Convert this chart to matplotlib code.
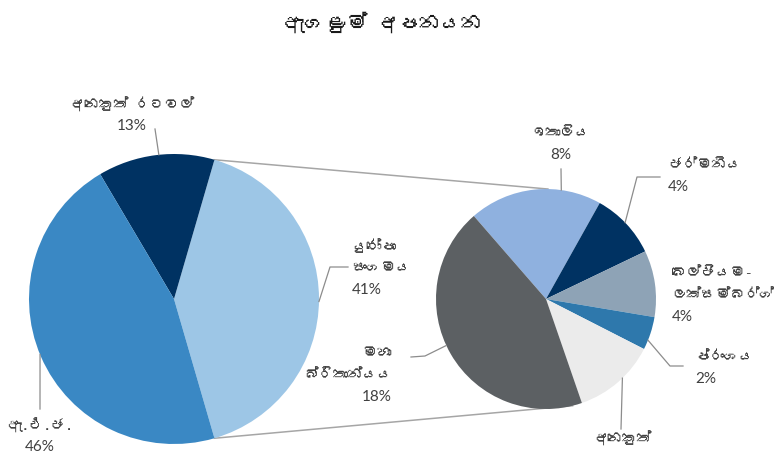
import numpy as np
import matplotlib
matplotlib.use("Agg")
import matplotlib.pyplot as plt
from matplotlib import font_manager
from matplotlib.ft2font import FT2Font

# ---------------- data ----------------
title = "ඇගළුම් අපනයන"
main_labels = ["යුරෝපා\nසංගමය", "අනෙකුත් රටවල්", "ඇ.එ.ජ."]
main_values = [41, 13, 46]
eu_labels = ["ඉතාලිය", "ජර්මනිය", "බෙල්ජියම-\nලක්සම්බර්ග්", "ප්රංශය", "අනෙකුත්", "මහා\nබ්රිතාන්යය"]
eu_values = [8, 4, 4, 2, 5, 18]

main_colors = ["#9DC6E6", "#003262", "#3A88C4"]
eu_colors = ["#8FB1DF", "#003262", "#8EA3B6", "#2E78AC", "#EBEBEB", "#5C6063"]

# ---------------- font with Sinhala coverage ----------------
def find_sinhala_font():
    seen = set()
    for f in font_manager.fontManager.ttflist:
        if f.fname in seen:
            continue
        seen.add(f.fname)
        try:
            cm = FT2Font(f.fname).get_charmap()
        except Exception:
            continue
        if 0x0DB8 in cm and 0x0D85 in cm:
            return f.name
    return None

sin_font = find_sinhala_font()
families = ([sin_font] if sin_font else []) + ["DejaVu Sans"]
plt.rcParams["font.family"] = families
num_family = ["Lato", "DejaVu Sans"]

W, H = 774, 452
fig = plt.figure(figsize=(W / 100, H / 100), dpi=100)
ax = fig.add_axes([0, 0, 1, 1])

def P(px, py):
    return (px, H - py)

c1 = P(174, 300); r1 = 145
c2 = P(546, 300); r2 = 110

ax.pie(main_values, colors=main_colors, startangle=-0.5 * main_values[0] / 100 * 360,
       center=c1, radius=r1, wedgeprops=dict(linewidth=0), frame=True)
ax.pie(eu_values, colors=eu_colors, startangle=131, counterclock=False,
       center=c2, radius=r2, wedgeprops=dict(linewidth=0), frame=True)
ax.set_xlim(0, W)
ax.set_ylim(0, H)
ax.set_aspect("equal")
ax.axis("off")

def on_circle(c, r, ang):
    a = np.deg2rad(ang)
    return (c[0] + r * np.cos(a), c[1] + r * np.sin(a))

# connection lines between pies
half = 0.5 * main_values[0] / 100 * 360
line_col = "#A6A6A6"
for a1, a2 in [(half, 89), (-half, -76)]:
    p1 = on_circle(c1, r1, a1)
    p2 = on_circle(c2, r2, a2)
    ax.plot([p1[0], p2[0]], [p1[1], p2[1]], color=line_col, lw=1.1, zorder=0)

# leader lines
def leader(c, r, ang, pts):
    s = on_circle(c, r, ang)
    xs = [s[0]] + [P(*p)[0] for p in pts]
    ys = [s[1]] + [P(*p)[1] for p in pts]
    ax.plot(xs, ys, color="#8C8C8C", lw=0.9, zorder=3)

leader(c1, r1, 96, [(155, 130)])
leader(c1, r1, -1, [(330, 268), (348, 268)])
leader(c1, r1, 202.5, [(40, 410)])
leader(c2, r2, 82, [(561, 170)])
leader(c2, r2, 44, [(637, 178), (660, 178)])
leader(c2, r2, -22, [(670, 367), (683, 367)])
leader(c2, r2, -46, [(621, 430)])
leader(c2, r2, 205, [(425, 357), (411, 358)])

txt_col = "#404040"
fs = 10.5
pitch = 22

def label(lines, px, py, ha):
    for i, s in enumerate(lines):
        x, y = P(px, py + i * pitch)
        if s.endswith("%"):
            ax.text(x, y, s, ha=ha, va="center", fontsize=11, color=txt_col,
                    family=num_family)
        else:
            ax.text(x, y, s, ha=ha, va="center", fontsize=fs, color=txt_col)

pct = lambda v: f"{v}%"
label([main_labels[1], pct(main_values[1])], 132, 104, "center")
label(main_labels[0].split("\n") + [pct(main_values[0])], 352, 246, "left")
label([main_labels[2], pct(main_values[2])], 40, 425, "center")
label([eu_labels[0], pct(eu_values[0])], 561, 133, "center")
label([eu_labels[1], pct(eu_values[1])], 668, 165, "left")
label(eu_labels[2].split("\n") + [pct(eu_values[2])], 672, 273, "left")
label([eu_labels[3], pct(eu_values[3])], 695, 357, "left")
label([eu_labels[4], pct(eu_values[4])], 623, 438, "center")
label(eu_labels[5].split("\n") + [pct(eu_values[5])], 392, 353, "right")

tx, ty = P(383, 22)
ax.text(tx, ty, title, ha="center", va="center", fontsize=15, fontweight="bold", color="#1A1A1A")

fig.savefig("out.png", dpi=100)
